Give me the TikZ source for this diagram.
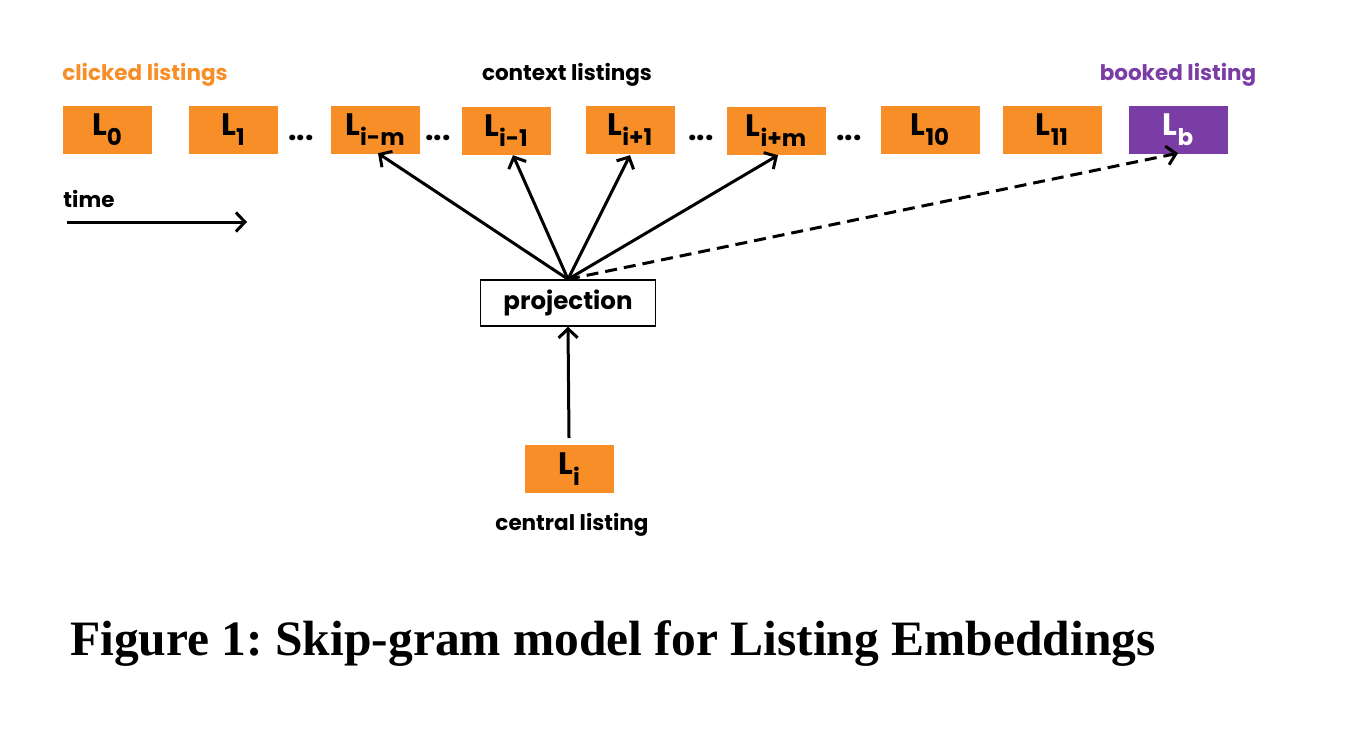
\documentclass[tikz,border=0pt]{standalone}
\usepackage{fontspec}
\setmainfont{Liberation Serif}
\newfontfamily\gothic{Poppins}
\usetikzlibrary{arrows.meta}
\definecolor{orng}{RGB}{248,142,40}
\definecolor{purp}{RGB}{122,60,165}
\newcommand{\Lsub}[1]{L\raisebox{-0.33em}{\fontsize{23}{23}\selectfont #1}}
\frenchspacing
\begin{document}
\begin{tikzpicture}[x=1pt,y=-1pt,
  lbox/.style={fill=orng, minimum width=89pt, minimum height=48pt, inner sep=0pt,
    font=\gothic\bfseries\fontsize{31}{31}\selectfont},
  wbox/.style={lbox, minimum width=99pt},
  lab/.style={font=\gothic\bfseries\fontsize{21.5}{21.5}\selectfont, inner sep=0pt},
  dots/.style={font=\gothic\bfseries\fontsize{30}{30}\selectfont, inner sep=0pt},
  arr/.style={line width=3pt, -{Straight Barb[length=9pt,width=19pt,line width=3pt]}},
  dsh/.style={arr, dash pattern=on 12pt off 7pt}
]
\useasboundingbox (0,0) rectangle (1352,752);
\node[lab, text=orng] (tclick) at (145,75) {clicked listings};
\node[lab] (tctx) at (567,75) {context listings};
\node[lab, text=purp] (tbook) at (1178,75) {booked listing};

\node[lbox] (l0) at (107,130) {\Lsub{0}};
\node[lbox] (l1) at (233,130) {\Lsub{1}};
\node[dots] (d1) at (301,138) {...};
\node[lbox] (lim) at (375,130) {\Lsub{i-m}};
\node[dots] (d2) at (438,138) {...};
\node[lbox] (li1) at (506,131) {\Lsub{i-1}};
\node[lbox] (lip1) at (630,130) {\Lsub{i+1}};
\node[dots] (d3) at (701,138) {...};
\node[wbox] (lipm) at (776,131) {\Lsub{i+m}};
\node[dots] (d4) at (849,138) {...};
\node[wbox] (l10) at (930,130) {\Lsub{10}};
\node[wbox] (l11) at (1052,130) {\Lsub{11}};
\node[wbox, fill=purp, text=white] (lb) at (1178,130) {\Lsub{b}};

\node[lab] (ttime) at (89,199) {time};
\coordinate (ts) at (67,222);
\coordinate (te) at (247,222);
\draw[arr] (ts) -- (te);

\node[draw, line width=1.5pt, minimum width=175pt, minimum height=46pt, inner sep=0pt,
  font=\gothic\bfseries\fontsize{24.5}{24.5}\selectfont] (proj) at (568,303) {projection};

\draw[arr] (proj.north) -- ([xshift=3pt,yshift=1pt]lim.south);
\draw[arr] (proj.north) -- ([xshift=7pt]li1.south);
\draw[arr] (proj.north) -- ([yshift=-1pt]lip1.south);
\draw[arr] (proj.north) -- ([xshift=2pt]lipm.south);
\draw[dsh] (proj.north) -- ([yshift=1pt]lb.south);

\node[lbox] (li) at (569,469) {\Lsub{i}};
\coordinate (lis) at (569,438);
\draw[arr] (lis) -- (proj.south);
\node[lab] (tcent) at (572,525) {central listing};

\node[font=\bfseries\fontsize{49.5}{49.5}\selectfont, anchor=base west, inner sep=0pt] (cap) at (70,655)
  {Figure 1: Skip-gram model for Listing Embeddings};
\end{tikzpicture}
\end{document}
